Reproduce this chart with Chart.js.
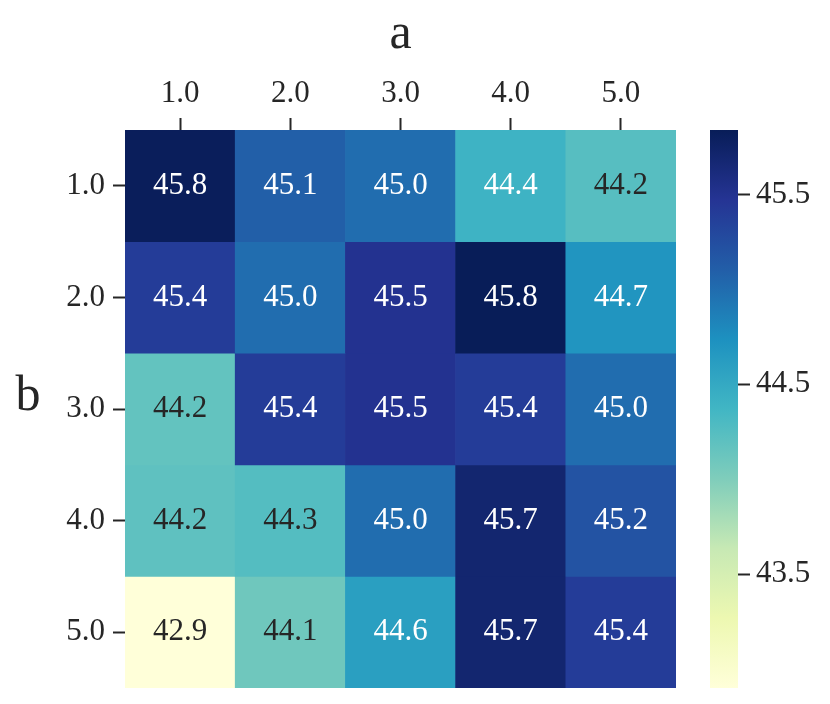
<!DOCTYPE html>
<html><head><meta charset="utf-8">
<script src="https://cdn.jsdelivr.net/npm/chart.js@4.4.1/dist/chart.umd.min.js"></script>
<style>
html,body{margin:0;padding:0;background:#fff;}
#wrap{position:relative;width:830px;height:704px;}
.box{position:absolute;top:0;}
</style></head><body>
<div id="wrap">
<div class="box" style="left:0;width:690px;height:704px"><canvas id="main" width="690" height="704"></canvas></div>
<div class="box" style="left:690px;width:140px;height:704px"><canvas id="cb" width="140" height="704"></canvas></div>
</div>
<script>
// ---- data ----
const xLabels = ['1.0', '2.0', '3.0', '4.0', '5.0'];
const yLabels = ['1.0', '2.0', '3.0', '4.0', '5.0'];
const xTitle = 'a';
const yTitle = 'b';
const row1 = [45.82, 45.1, 45.0, 44.4, 44.24];
const row2 = [45.4, 45.0, 45.5, 45.84, 44.7];
const row3 = [44.17, 45.4, 45.5, 45.4, 45.0];
const row4 = [44.19, 44.26, 45.0, 45.7, 45.2];
const row5 = [42.9, 44.1, 44.6, 45.7, 45.4];
const rows = [row1, row2, row3, row4, row5];
const cbRange = [42.9, 45.84];
const cbTicks = [43.5, 44.5, 45.5];
const cbTickLabels = ['43.5', '44.5', '45.5'];

// ---- styling ----
const FONT = '"Liberation Serif", "Times New Roman", serif';
const INK = '#262626';
const YlGnBu = [
  [255,255,217],[237,248,177],[199,233,180],[127,205,187],[65,182,196],
  [29,145,192],[34,94,168],[37,52,148],[8,29,88]
];
function cmap(t){
  t = Math.max(0, Math.min(1, t));
  const p = t * (YlGnBu.length - 1);
  const i = Math.min(Math.floor(p), YlGnBu.length - 2);
  const f = p - i;
  const a = YlGnBu[i], b = YlGnBu[i+1];
  return [0,1,2].map(k => a[k] + (b[k]-a[k])*f);
}
function css(c){ return 'rgb(' + c.map(v => Math.round(v)).join(',') + ')'; }
function norm(v){ return (v - cbRange[0]) / (cbRange[1] - cbRange[0]); }
function cellColor(v){ return css(cmap(norm(v))); }
function lum(c){
  const l = c.map(v => { v /= 255; return v <= 0.03928 ? v/12.92 : Math.pow((v+0.055)/1.055, 2.4); });
  return 0.2126*l[0] + 0.7152*l[1] + 0.0722*l[2];
}
function textColor(v){ return lum(cmap(norm(v))) > 0.408 ? INK : '#ffffff'; }

Chart.defaults.font.family = FONT;
Chart.defaults.color = INK;

const rowPos = yLabels.map((_, i) => i + 1);

const datasets = rows.map((r, i) => ({
  label: yLabels[i],
  data: r.map(() => [rowPos[i] - 0.5, rowPos[i] + 0.5]),
  backgroundColor: r.map(cellColor),
  borderWidth: 0,
  barPercentage: 1,
  categoryPercentage: 1,
  grouped: false
}));

const cellLabels = {
  id: 'cellLabels',
  afterDatasetsDraw(chart){
    const ctx = chart.ctx;
    ctx.save();
    ctx.font = '31px ' + FONT;
    ctx.textAlign = 'center';
    ctx.textBaseline = 'middle';
    chart.data.datasets.forEach((ds, i) => {
      chart.getDatasetMeta(i).data.forEach((bar, j) => {
        const v = rows[i][j];
        const p = bar.getCenterPoint();
        ctx.fillStyle = textColor(v);
        ctx.fillText(v.toFixed(1), p.x, p.y);
      });
    });
    // upright y-axis title
    const a = chart.chartArea;
    ctx.fillStyle = INK;
    ctx.font = '50px ' + FONT;
    ctx.fillText(yTitle, 28, (a.top + a.bottom) / 2 - 12);
    ctx.restore();
  }
};

new Chart(document.getElementById('main'), {
  type: 'bar',
  data: { labels: xLabels, datasets },
  options: {
    responsive: false,
    animation: false,
    layout: { padding: { left: 0, top: 0, right: 14, bottom: 16 } },
    plugins: { legend: { display: false }, tooltip: { enabled: false } },
    scales: {
      x: {
        type: 'category',
        position: 'top',
        offset: true,
        grid: { offset: false, drawOnChartArea: false, drawTicks: true, tickLength: 12, tickWidth: 2, tickColor: INK },
        border: { display: false },
        ticks: { color: INK, font: { size: 31 }, padding: 6, maxRotation: 0 },
        title: { display: true, text: xTitle, color: INK, font: { size: 50 }, padding: { top: 5, bottom: 0 } },
        afterFit(s){ s.height = 130; s.paddingLeft = 0; s.paddingRight = 0; }
      },
      y: {
        type: 'linear',
        reverse: true,
        min: 0.5,
        max: 5.5,
        afterBuildTicks(s){ s.ticks = rowPos.map(v => ({ value: v })); },
        grid: { drawOnChartArea: false, drawTicks: true, tickLength: 12, tickWidth: 2, tickColor: INK },
        border: { display: false },
        ticks: { color: INK, font: { size: 31 }, padding: 8, callback: v => yLabels[rowPos.indexOf(v)] },
        afterFit(s){ s.width = 125; s.paddingTop = 0; s.paddingBottom = 0; }
      }
    }
  },
  plugins: [cellLabels]
});

new Chart(document.getElementById('cb'), {
  type: 'bar',
  data: {
    labels: [''],
    datasets: [{
      data: [cbRange],
      borderWidth: 0,
      barPercentage: 1,
      categoryPercentage: 1,
      backgroundColor(ctx){
        const chart = ctx.chart;
        if (!chart.chartArea) return css(cmap(1));
        const ys = chart.scales.y;
        const g = chart.ctx.createLinearGradient(0, ys.getPixelForValue(cbRange[0]), 0, ys.getPixelForValue(cbRange[1]));
        YlGnBu.forEach((c, k) => g.addColorStop(k / (YlGnBu.length - 1), css(c)));
        return g;
      }
    }]
  },
  options: {
    responsive: false,
    animation: false,
    layout: { padding: { left: 20, top: 130, right: 0, bottom: 16 } },
    plugins: { legend: { display: false }, tooltip: { enabled: false } },
    scales: {
      x: { display: false },
      y: {
        position: 'right',
        min: cbRange[0],
        max: cbRange[1],
        afterBuildTicks(s){ s.ticks = cbTicks.map(v => ({ value: v })); },
        grid: { drawOnChartArea: false, drawTicks: true, tickLength: 12, tickWidth: 2, tickColor: INK },
        border: { display: false },
        ticks: { color: INK, font: { size: 31 }, padding: 6, callback: v => cbTickLabels[cbTicks.indexOf(v)] },
        afterFit(s){ s.width = 92; s.paddingTop = 0; s.paddingBottom = 0; }
      }
    }
  }
});
</script>
</body></html>
